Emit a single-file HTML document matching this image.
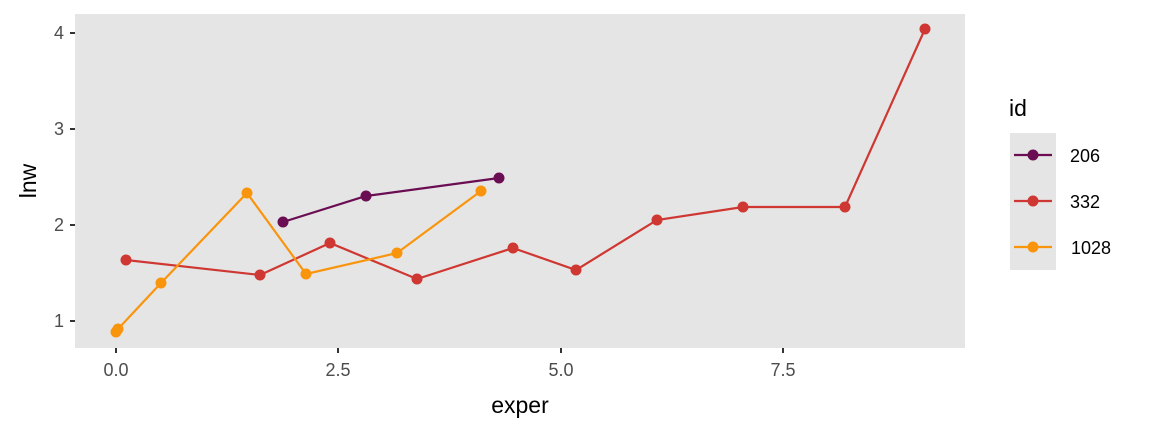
<!DOCTYPE html>
<html><head><meta charset="utf-8"><style>
html,body{margin:0;padding:0;background:#fff;}
svg{display:block;font-family:"Liberation Sans",Arial,sans-serif;}
</style></head><body>
<svg width="1152" height="432" viewBox="0 0 1152 432" xmlns="http://www.w3.org/2000/svg">
<rect x="0" y="0" width="1152" height="432" fill="#fff"/>
<rect x="75" y="14" width="890" height="334" fill="#e5e5e5"/>
<g stroke="#333" stroke-width="2">
<line x1="70" y1="33" x2="75" y2="33"/><line x1="70" y1="129" x2="75" y2="129"/>
<line x1="70" y1="225" x2="75" y2="225"/><line x1="70" y1="321" x2="75" y2="321"/>
<line x1="116" y1="348" x2="116" y2="353"/><line x1="338" y1="348" x2="338" y2="353"/>
<line x1="561" y1="348" x2="561" y2="353"/><line x1="783" y1="348" x2="783" y2="353"/>
</g>
<g font-size="18" fill="#4d4d4d" text-anchor="end">
<text x="64" y="39">4</text><text x="64" y="135">3</text><text x="64" y="231">2</text><text x="64" y="327">1</text>
</g>
<g font-size="18" fill="#4d4d4d" text-anchor="middle">
<text x="116" y="376">0.0</text><text x="338" y="376">2.5</text><text x="561" y="376">5.0</text><text x="783" y="376">7.5</text>
</g>
<text x="520" y="413" font-size="23" text-anchor="middle" fill="#000">exper</text>
<text x="36" y="181" font-size="23" text-anchor="middle" fill="#000" transform="rotate(-90 36 181)">lnw</text>
<g fill="none" stroke-width="2.2">
<polyline stroke="#6A0D52" points="283,222 366,196 499,178"/>
<polyline stroke="#CF3732" points="126,260 260,275 330,243 417,279 513,248 576,270 657,220 743,207 845,207 925,29"/>
<polyline stroke="#F9950D" points="116,332 118,329 161,283 247,193 306,274 397,253 481,191"/>
</g>
<g fill="#6A0D52"><circle cx="283" cy="222" r="5.5"/><circle cx="366" cy="196" r="5.5"/><circle cx="499" cy="178" r="5.5"/></g>
<g fill="#CF3732"><circle cx="126" cy="260" r="5.5"/><circle cx="260" cy="275" r="5.5"/><circle cx="330" cy="243" r="5.5"/><circle cx="417" cy="279" r="5.5"/><circle cx="513" cy="248" r="5.5"/><circle cx="576" cy="270" r="5.5"/><circle cx="657" cy="220" r="5.5"/><circle cx="743" cy="207" r="5.5"/><circle cx="845" cy="207" r="5.5"/><circle cx="925" cy="29" r="5.5"/></g>
<g fill="#F9950D"><circle cx="116" cy="332" r="5.5"/><circle cx="118" cy="329" r="5.5"/><circle cx="161" cy="283" r="5.5"/><circle cx="247" cy="193" r="5.5"/><circle cx="306" cy="274" r="5.5"/><circle cx="397" cy="253" r="5.5"/><circle cx="481" cy="191" r="5.5"/></g>
<text x="1009" y="116" font-size="23" fill="#000">id</text>
<rect x="1010" y="133" width="46" height="137" fill="#e5e5e5"/>
<g stroke-width="2.2">
<line x1="1014" y1="155" x2="1052" y2="155" stroke="#6A0D52"/>
<line x1="1014" y1="201" x2="1052" y2="201" stroke="#CF3732"/>
<line x1="1014" y1="247" x2="1052" y2="247" stroke="#F9950D"/>
</g>
<circle cx="1033" cy="155" r="5.5" fill="#6A0D52"/>
<circle cx="1033" cy="201" r="5.5" fill="#CF3732"/>
<circle cx="1033" cy="247" r="5.5" fill="#F9950D"/>
<g font-size="18" fill="#000">
<text x="1070" y="162">206</text><text x="1070" y="208">332</text><text x="1071" y="254">1028</text>
</g>
</svg>
</body></html>
